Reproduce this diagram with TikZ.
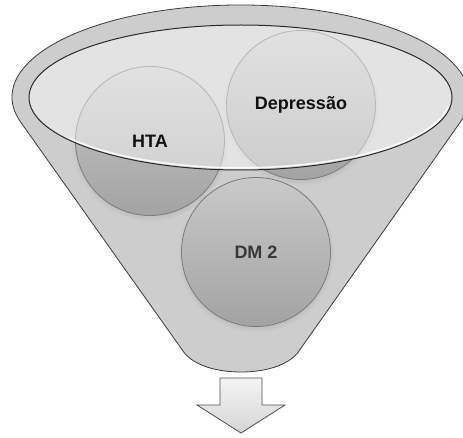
\documentclass[tikz,border=0pt]{standalone}
\usepackage{fontspec}
\setmainfont{Liberation Sans}
\usetikzlibrary{shadows}

\definecolor{funnelfill}{HTML}{CDCDCD}
\definecolor{funnelline}{HTML}{3C3C3C}
\definecolor{rimline}{HTML}{2A2A2A}
\definecolor{bubbletop}{HTML}{C9C9C9}
\definecolor{bubblebot}{HTML}{A3A3A3}
\definecolor{bubbleline}{HTML}{7C7C7C}
\definecolor{arrowtop}{HTML}{F4F4F4}
\definecolor{arrowbot}{HTML}{D6D6D6}
\definecolor{arrowline}{HTML}{505050}
\definecolor{darktext}{HTML}{111111}
\definecolor{softtext}{HTML}{383838}

\begin{document}
\begin{tikzpicture}[x=1pt,y=1pt,
  bubble/.style={circle, draw=bubbleline, line width=0.8pt,
    minimum size=149pt, inner sep=0pt,
    top color=bubbletop, bottom color=bubblebot,
    circular drop shadow={shadow xshift=0pt, shadow yshift=-2pt,
      shadow scale=1.05, opacity=0.35}},
  bubbletext/.style={font=\fontsize{18}{20}\selectfont\bfseries, inner sep=0pt}
]
\useasboundingbox (0,0) rectangle (463,437);

% funnel body: top rim arc, straight sides, rounded spout
\path[fill=funnelfill, draw=funnelline, line width=0.8pt]
  (20.74,314.8) arc[start angle=195.9, end angle=-15.9, x radius=228.5, y radius=92]
  -- (299,86) .. controls (291,74) and (270,65) .. (241,65)
  .. controls (212,65) and (191,74) .. (183,86) -- cycle;

% the three bubbles
\node[bubble] (hta) at (150,296) {};
\node[bubble] (dep) at (301,332) {};
\node[bubble] (dm)  at (256,185) {};

% translucent mouth of the funnel, drawn over the bubbles
\path[fill=white, fill opacity=0.45, draw=rimline, line width=1pt]
  (240.5,339.5) ellipse [x radius=211.5, y radius=72.5];
% glossy highlight along the lower lip
\draw[white, line width=1.6pt, opacity=0.85]
  (240.5,339.5) ++(215:209.3 and 70.3)
  arc[start angle=215, end angle=352, x radius=209.3, y radius=70.3];

% labels
\node[bubbletext, text=darktext] (htaText) at (150,296) {HTA};
\node[bubbletext, text=darktext] (depText) at (301,332) {Depressão};
\node[bubbletext, text=softtext] (dmText)  at (256,185) {DM 2};

% outlet arrow
\path[draw=arrowline, line width=0.8pt, top color=arrowtop, bottom color=arrowbot]
  (220,59) -- (262,59) -- (262,32) -- (285,32) -- (241,4) -- (197,32) -- (220,32) -- cycle;
\end{tikzpicture}
\end{document}
